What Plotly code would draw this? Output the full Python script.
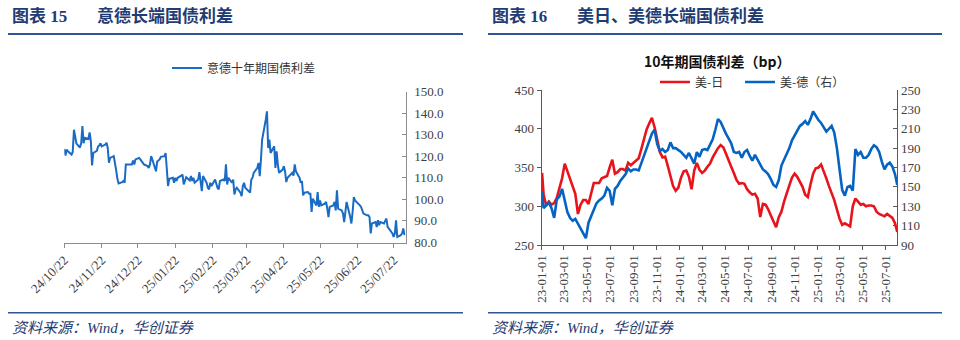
import pandas as pd
import plotly.graph_objects as go

# ---------------- data: Italy-Germany 10Y spread (bp), business days ----------------
it_de_start = "2024-10-22"
it_de_spread = [
    123.4, 120.3, 123.0, 122.3, 120.8, 122.0, 132.3, 128.0, 126.0, 124.0,
    126.0, 134.0, 126.0, 128.5, 128.0, 131.0, 127.0, 115.7, 121.5, 122.5,
    124.5, 125.0, 126.0, 124.6, 125.4, 126.2, 123.8, 117.0, 119.2, 120.0,
    117.2, 113.5, 109.5, 107.4, 108.0, 108.5, 107.7, 116.2, 116.2, 116.2,
    116.2, 118.0, 116.2, 118.5, 119.2, 118.5, 117.7, 116.9, 116.2, 115.4,
    114.6, 116.2, 120.0, 118.5, 113.0, 117.5, 118.0, 118.5, 119.7, 120.0,
    121.5, 110.8, 106.2, 109.5, 110.0, 107.7, 110.0, 108.5, 110.0, 111.0,
    111.5, 106.9, 109.2, 110.3, 108.8, 110.8, 108.5, 110.0, 107.7, 109.2,
    112.6, 107.7, 103.8, 110.8, 107.7, 105.4, 104.6, 107.7, 106.2, 109.2,
    106.9, 105.4, 104.6, 108.5, 109.2, 108.5, 116.2, 106.9, 110.0, 107.7,
    109.2, 102.3, 104.6, 105.4, 103.1, 101.5, 106.2, 107.7, 105.4, 103.8,
    103.1, 109.2, 110.0, 112.3, 114.6, 116.9, 110.8, 118.5, 127.7, 136.9,
    140.8, 123.8, 127.7, 121.5, 124.6, 114.6, 122.3, 116.2, 112.3, 113.8,
    115.4, 113.0, 108.0, 110.0, 111.5, 112.3, 111.0, 116.2, 113.0, 110.0,
    107.7, 108.5, 101.8, 103.1, 103.4, 102.6, 102.6, 94.2, 100.3, 97.2,
    103.4, 96.5, 99.5, 97.2, 98.0, 98.8, 95.7, 91.8, 96.5, 97.2,
    98.8, 94.9, 104.2, 95.7, 94.9, 93.4, 89.5, 94.9, 98.8, 91.8,
    88.8, 94.2, 101.1, 99.5, 98.0, 97.2, 96.5, 94.9, 93.4, 92.6,
    92.6, 91.8, 84.2, 88.8, 89.5, 87.2, 90.3, 88.0, 89.5, 88.8,
    90.3, 91.1, 87.2, 86.5, 84.2, 82.6, 84.2, 90.3, 82.6, 83.4,
    84.2, 86.5, 83.4,
]
it_de_dates = pd.bdate_range(it_de_start, periods=len(it_de_spread))

it_tick_dates = ["2024-10-22", "2024-11-22", "2024-12-22", "2025-01-22", "2025-02-22",
                 "2025-03-22", "2025-04-22", "2025-05-22", "2025-06-22", "2025-07-22"]
it_tick_labels = ["24/10/22", "24/11/22", "24/12/22", "25/01/22", "25/02/22",
                  "25/03/22", "25/04/22", "25/05/22", "25/06/22", "25/07/22"]

# ---------------- data: US-Japan / US-Germany 10Y spreads (bp), weekly ----------------
us_first_date = "2023-01-02"
us_last_date = "2025-07-31"
us_weekly_dates = pd.date_range("2023-01-06", periods=134, freq="7D")
us_dates = [pd.Timestamp(us_first_date)] + list(us_weekly_dates) + [pd.Timestamp(us_last_date)]

us_jp = [
    343,
    315, 301, 306, 302, 304, 311, 324, 336, 355, 345,
    336, 325, 316, 290, 302, 308, 308, 303, 316, 330,
    330, 330, 336, 338, 339, 350, 360, 342, 344, 348,
    348, 346, 356, 353, 356, 359, 362, 374, 388, 399,
    407, 414, 402, 385, 370, 363, 364, 352, 338, 326,
    320, 324, 337, 345, 346, 338, 322, 346, 356, 347,
    343, 346, 351, 355, 363, 370, 375, 379, 376, 368,
    358, 351, 343, 334, 329, 330, 329, 322, 318, 315,
    316, 310, 286, 303, 302, 296, 288, 280, 273, 286,
    293, 306, 318, 327, 337, 342, 338, 332, 325, 315,
    312, 328, 342, 349, 350, 354, 346, 336, 326, 318,
    308, 296, 284, 276, 278, 276, 274, 300, 310, 306,
    302, 303, 300, 301, 301, 300, 293, 290, 288, 287,
    290, 288, 285, 278,
    267,
]
us_de = [
    145,
    128, 131, 134, 128, 118, 137, 140, 148, 134, 124,
    118, 115, 117, 112, 108, 102, 97, 113, 120, 128,
    133, 136, 138, 141, 149, 146, 131, 148, 151, 156,
    160, 163, 169, 166, 168, 168, 167, 175, 181, 189,
    197, 205, 209, 194, 187, 189, 186, 188, 196, 190,
    190, 188, 186, 183, 180, 185, 180, 174, 186, 181,
    188, 189, 188, 194, 199, 209, 220, 217, 210, 205,
    200, 195, 186, 185, 186, 180, 186, 188, 182, 177,
    183, 178, 172, 168, 166, 163, 158, 152, 150, 157,
    172, 178, 184, 190, 198, 203, 209, 213, 215, 218,
    214, 220, 228, 223, 219, 216, 211, 207, 210, 213,
    206, 190, 168, 147, 141, 150, 151, 146, 189, 183,
    186, 180, 180, 183, 189, 193, 191, 186, 176, 168,
    173, 175, 171, 163,
    152,
]

us_tick_dates = ["2023-01-01", "2023-03-01", "2023-05-01", "2023-07-01", "2023-09-01",
                 "2023-11-01", "2024-01-01", "2024-03-01", "2024-05-01", "2024-07-01",
                 "2024-09-01", "2024-11-01", "2025-01-01", "2025-03-01", "2025-05-01",
                 "2025-07-01"]
us_tick_labels = ["23-01-01", "23-03-01", "23-05-01", "23-07-01", "23-09-01",
                  "23-11-01", "24-01-01", "24-03-01", "24-05-01", "24-07-01",
                  "24-09-01", "24-11-01", "25-01-01", "25-03-01", "25-05-01",
                  "25-07-01"]

# ---------------- layout helpers (pixel -> paper fraction) ----------------
W, H = 960, 340


def px_x(v):
    return v / W


def px_y(v):
    return 1 - v / H


NAVY = "#1F3C73"
SERIF = "Liberation Serif, Noto Sans CJK SC"
CJK = "Noto Sans CJK SC"
tick_font = dict(family=SERIF, size=13, color="#404040")
legend_font = dict(family=CJK, size=12, color="#333333")

fig = go.Figure()

fig.add_trace(go.Scatter(
    x=it_de_dates, y=it_de_spread, mode="lines", name="意德十年期国债利差",
    line=dict(color="#1A6BC4", width=2), xaxis="x", yaxis="y", legend="legend",
))
fig.add_trace(go.Scatter(
    x=us_dates, y=us_jp, mode="lines", name="美-日",
    line=dict(color="#E8141C", width=2.6), xaxis="x2", yaxis="y2", legend="legend2",
))
fig.add_trace(go.Scatter(
    x=us_dates, y=us_de, mode="lines", name="美-德（右）",
    line=dict(color="#0563C1", width=2.6), xaxis="x2", yaxis="y3", legend="legend3",
))

axis_common = dict(showgrid=False, zeroline=False, showline=True, linewidth=1,
                   tickfont=tick_font, automargin=False)


def legend_at(x_px, y_px):
    return dict(orientation="h", x=px_x(x_px), y=px_y(y_px), xanchor="left", yanchor="middle",
                font=legend_font, bgcolor="rgba(0,0,0,0)")


fig.update_layout(
    width=W, height=H,
    margin=dict(l=0, r=0, t=0, b=0, autoexpand=False),
    paper_bgcolor="white", plot_bgcolor="white",
    showlegend=True,
    xaxis=dict(
        domain=[px_x(64.3), px_x(405.7)], anchor="y", type="date",
        range=["2024-10-22", "2025-08-01"],
        tickmode="array", tickvals=it_tick_dates, ticktext=it_tick_labels,
        tickangle=-45, ticks="outside", ticklen=4, tickcolor="#8C8C8C",
        linecolor="#8C8C8C", **axis_common,
    ),
    yaxis=dict(
        domain=[px_y(242.5), px_y(91.5)], anchor="x", side="right",
        range=[80, 150], tick0=80, dtick=10, tickformat=".1f",
        ticks="inside", ticklen=4, tickcolor="#8C8C8C", ticklabelstandoff=5,
        linecolor="#8C8C8C", **axis_common,
    ),
    xaxis2=dict(
        domain=[px_x(541.7), px_x(897.3)], anchor="y2", type="date",
        range=["2023-01-01", "2025-07-31"],
        tickmode="array", tickvals=us_tick_dates, ticktext=us_tick_labels,
        tickangle=-90, ticks="outside", ticklen=4, tickcolor="#595959",
        linecolor="#595959", **axis_common,
    ),
    yaxis2=dict(
        domain=[px_y(245), px_y(90)], anchor="x2", side="left",
        range=[250, 450], tick0=250, dtick=50,
        ticks="outside", ticklen=4, tickcolor="#595959",
        linecolor="#595959", **axis_common,
    ),
    yaxis3=dict(
        overlaying="y2", anchor="x2", side="right",
        range=[90, 250], tick0=90, dtick=20,
        ticks="inside", ticklen=4, tickcolor="#595959",
        linecolor="#595959", **axis_common,
    ),
    legend=legend_at(167, 68),
    legend2=legend_at(655, 82),
    legend3=legend_at(740, 82),
)

# headings, chart title and source notes
texts = [
    ("图表 15", 10, 16, dict(family=SERIF, size=17, color=NAVY, weight="bold"), "left"),
    ("意德长端国债利差", 95, 16, dict(family=SERIF, size=17, color=NAVY, weight="bold"), "left"),
    ("图表 16", 490, 16, dict(family=SERIF, size=17, color=NAVY, weight="bold"), "left"),
    ("美日、美德长端国债利差", 575, 16, dict(family=SERIF, size=17, color=NAVY, weight="bold"), "left"),
    ("10年期国债利差（bp）", 717, 61, dict(family=CJK, size=14, color="#111111", weight="bold"), "center"),
    ("资料来源：Wind，华创证券", 10, 328, dict(family=SERIF, size=15, color=NAVY, style="italic"), "left"),
    ("资料来源：Wind，华创证券", 490, 328, dict(family=SERIF, size=15, color=NAVY, style="italic"), "left"),
]
for txt, x0, y0, font, anchor in texts:
    fig.add_annotation(
        text=txt, x=px_x(x0), y=px_y(y0), xref="paper", yref="paper",
        xanchor=anchor, yanchor="middle", showarrow=False, font=font,
    )

# rule lines under headings and above source notes
for x0, x1 in [(8, 463), (488, 942)]:
    fig.add_shape(type="line", xref="paper", yref="paper",
                  x0=px_x(x0), x1=px_x(x1), y0=px_y(34), y1=px_y(34),
                  line=dict(color="#2F5597", width=2))
    fig.add_shape(type="line", xref="paper", yref="paper",
                  x0=px_x(x0), x1=px_x(x1), y0=px_y(312.7), y1=px_y(312.7),
                  line=dict(color="#2F5597", width=1.5))

fig.write_html("out.html")
